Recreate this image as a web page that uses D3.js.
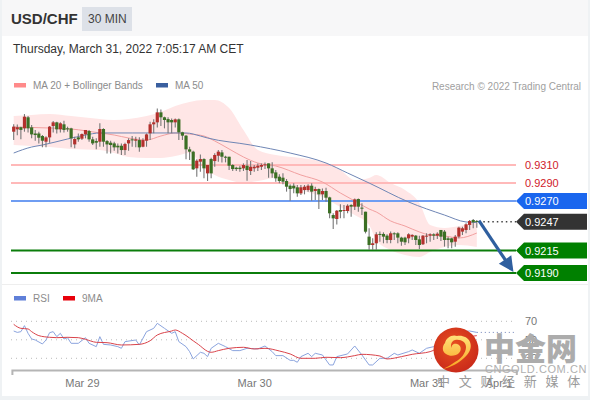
<!DOCTYPE html>
<html><head><meta charset="utf-8">
<script src="https://cdn.jsdelivr.net/npm/d3@7"></script>
<style>html,body{margin:0;padding:0;background:#fff;overflow:hidden}svg{display:block;font-family:"Liberation Sans",Arial,sans-serif}</style>
</head><body><svg id="c" width="590" height="400"></svg>
<script>
// candle values in pips of USD/CHF (x 1e-4), one per 30-minute bar
const highs=[9355.2,9355,9352.6,9366.6,9364.4,9354.4,9348.9,9347,9343.3,9342,9353.3,9358.9,9358.1,9357.4,9359.2,9352.6,9351.4,9341.4,9345,9345,9348.9,9348.9,9341.4,9339.6,9356.3,9350.7,9337.7,9337,9335.9,9334,9334,9334.8,9339.6,9342.2,9341.4,9340.7,9339.6,9345,9358.1,9360.7,9372.9,9371.8,9363.7,9363,9361.8,9361.8,9361.8,9347,9343.3,9330.3,9325.9,9316.3,9321.8,9317.4,9310,9318.1,9323,9326.6,9326.6,9320.3,9319.2,9310.7,9308.1,9309.2,9311.8,9315.5,9314.4,9310,9311.8,9311.8,9312.9,9311.8,9313,9304.4,9299.6,9300.7,9294.4,9288.5,9289.6,9287.8,9287.8,9287.8,9288.5,9289.6,9285.9,9284,9284,9284.8,9274.8,9256.3,9260,9266.3,9265.6,9266.3,9266.3,9272.9,9272.9,9267.4,9258.1,9239.7,9228.5,9235.2,9236,9235.2,9233,9236,9235.2,9235.2,9230.4,9230.4,9234.1,9233,9232.3,9231.5,9232.3,9234.1,9234.1,9234.1,9235.2,9237.8,9237.8,9230.4,9229.3,9232.3,9241.5,9241.5,9245.2,9248.9,9250,9248.9];
const lows=[9337.7,9343,9338.5,9347,9346,9339.6,9337,9334,9329.6,9329.6,9334.8,9346,9345,9346,9346,9347,9329.6,9328.5,9335.9,9337.7,9339.6,9335.9,9332.2,9327.4,9330.3,9330.3,9322.9,9322.9,9325.9,9322.9,9321,9321,9325.9,9330.3,9329.6,9324.8,9329.6,9330.3,9337.7,9345.2,9351.8,9353.3,9350.7,9345.2,9345.2,9351.8,9337.7,9337.7,9316.3,9315.5,9304.4,9297,9302.6,9295.2,9292.2,9295.2,9308.1,9313.7,9312.9,9312.9,9304.4,9303.3,9303.3,9302.6,9303.3,9292.6,9298.9,9302.6,9303.3,9304.4,9305.5,9295.9,9295.9,9291.5,9289.6,9288.5,9280.4,9270.4,9278.5,9274.8,9276.7,9277.4,9280.4,9270.4,9271.1,9261.1,9271.1,9269.2,9250.7,9238.9,9244,9250.7,9250.7,9256.3,9252.6,9260,9258.1,9254.4,9234,9215.6,9215.6,9215.6,9224.8,9223,9223,9223,9226.7,9223,9220.4,9221.1,9223,9226.7,9221.1,9216.7,9221.1,9223,9224.8,9226.7,9227.8,9225.6,9219.3,9217.4,9217.4,9219.3,9228.5,9232.3,9234.1,9237.8,9239.7,9240.4];
const opens=[9347,9349.6,9352,9350.7,9363,9351.8,9345,9345,9342.2,9335.9,9340.7,9353.3,9357.4,9349.6,9355.2,9350.7,9350.7,9332.9,9340.7,9339.2,9344,9347.7,9338.5,9336.6,9335.9,9350,9336.6,9334.8,9334,9331.4,9331.4,9326.6,9334,9338.5,9337,9337.7,9330.3,9337,9345.2,9355.2,9357.4,9368.5,9363,9361,9360,9357.4,9360.7,9346.3,9342.6,9327.4,9324.8,9306.3,9313.7,9316.6,9300.7,9316.6,9314.4,9320.3,9324,9319.2,9319.2,9310,9307,9307,9306.3,9309.2,9303.3,9306.3,9307,9308.1,9310,9311.8,9306.3,9301.8,9297,9295.9,9292.2,9287,9287,9285.2,9278.5,9282.2,9282.2,9287,9281.1,9283.3,9277.4,9281.1,9274,9254.4,9250,9260,9258.9,9258.9,9265.6,9263.7,9272.2,9262.6,9258.1,9230.4,9221.1,9223,9233.4,9233.4,9231.5,9226.7,9234.1,9234.1,9229.3,9229.3,9228.5,9230.4,9231.5,9227.4,9221.9,9230.4,9231.5,9233,9231.5,9237.8,9236,9228.5,9228.5,9224.8,9230.4,9236,9237.8,9243.4,9248.9,9247.8];
const closes=[9352.6,9352,9349,9363.7,9350.7,9344,9343.3,9340.3,9337,9340.7,9352.6,9357.4,9349.6,9356.3,9348.9,9349.6,9339.6,9338.9,9338.5,9344.4,9348.9,9338.5,9334,9334.8,9350,9335.9,9332.9,9332.2,9329.6,9329.6,9326.6,9333.3,9337.7,9337.7,9338.5,9329.6,9337.7,9344,9355.2,9357.4,9368.5,9363,9360,9357.4,9357.4,9360.7,9346.3,9342.6,9327.4,9324.8,9305.2,9314.8,9316.6,9306.3,9310,9300.7,9321.1,9324.8,9319.2,9318.1,9309.2,9305.5,9305.5,9305.5,9310,9304.4,9308.1,9308.1,9309.2,9310,9310.7,9306.3,9300.7,9295.2,9292.2,9291.5,9285.9,9283.3,9284,9278.5,9285.2,9285.9,9287,9280.4,9283.3,9277.4,9281.1,9273.7,9256.3,9250.7,9259.2,9258.1,9260,9264.8,9263.7,9271.8,9263.7,9261.9,9235.9,9221.1,9223,9233,9232.3,9230.4,9226.7,9234.1,9233,9229.3,9224.8,9224.1,9233,9232.3,9226.7,9221.1,9231.5,9231.5,9233,9231.5,9233.7,9230.4,9226.7,9226.7,9224.1,9230.4,9240.4,9239.7,9244.1,9247.8,9246.3,9247];
// Bollinger bands, MA 20 and MA 50, read at these bar positions
const bandBars=[0,5,10,16,24,28,32,37,41,45,49,53,56,60,64,68,73,80,86,91,95,99,101,105,109,113,116,120,124,129];
const bandUpper=[9364.4,9365.6,9366.7,9364.4,9361.1,9360,9361.1,9364.4,9368.9,9375.6,9380,9382.2,9382.2,9373.3,9348.9,9326.7,9321.1,9317.8,9313.3,9304.4,9293.3,9295.6,9298.9,9290,9282.2,9267.8,9243.3,9240,9242.2,9246.7];
const bandLower=[9332.2,9331.1,9330,9327.8,9326.7,9323.3,9318.9,9317.8,9317.8,9320,9323.3,9306.7,9298.9,9293.3,9290,9292.2,9295.6,9282.2,9274.4,9263.3,9254.4,9243.3,9226.7,9215.6,9210,9207.8,9213.3,9218.9,9221.1,9218.9];
const ma20=[9352.2,9351.7,9351.1,9350,9345.6,9343.3,9340,9337.8,9342.2,9345.6,9344.4,9342.2,9336.7,9327.8,9318.9,9312.2,9308.9,9298.9,9291.1,9278.9,9270,9261.1,9257.8,9247.8,9242.2,9235.6,9232.2,9231.1,9228.9,9234.4];
const ma50Bars=[0,5,8,15,20,24,33,43,48,52,54,66,77,87,93,99,110,120,126,129];
const ma50=[9323.3,9330,9332.2,9338.9,9343.3,9345.6,9345.6,9345.6,9345.6,9342.2,9340,9332.2,9323.3,9312.2,9301.1,9290,9268.9,9254.4,9246.7,9246.1];
// RSI panel
const rsiBars=[0,1,2,3,4,5,6,8,9,10,11,12,13,14,15,16,18,20,21,23,24,25,27,29,30,31,34,35,37,39,40,42,44,45,46,48,49,50,52,53,54,55,57,59,61,63,65,68,70,72,73,75,77,78,79,80,82,83,84,86,88,89,90,93,95,97,99,100,102,104,106,107,110,111,113,115,117,120,123,125,127,129];
const rsi=[59.5,58,58.8,65.3,57,50.9,49.8,45.5,49.8,57.7,58.8,53.4,57,50.9,52.3,46.2,46.2,52.3,46.2,42.6,53.4,45.1,44.4,42.6,40.8,48,49.8,44.4,58.8,62.4,67.8,62.4,57,58.8,48,42.6,37.2,29.3,36.5,35.4,31.8,40.8,46.2,42.6,38.3,38.3,40.8,40.1,43.3,37.2,32.9,32.9,27.8,27.8,25.7,31.8,35.4,31.8,35.4,33.6,22.8,22.8,31.8,34.7,43.3,33.6,22.8,22.8,30,30,35.4,33.6,37.2,39,35.4,40.8,42.6,49.8,55.2,58.8,59.5,58];
const rsiMaBars=[0,2,4,5,7,10,12,15,18,20,23,26,30,35,38,40,44,45,47,51,55,57,60,64,67,70,74,77,80,84,87,91,95,97,102,104,108,111,116,120,123,127,129];
const rsiMa=[66.7,62.4,61.7,58.8,54.5,52.7,52.3,52.7,52.3,50.5,47.3,46.9,44.4,45.1,49,55.2,59.5,60.6,57,46.2,36.5,38.3,40.8,41.9,40.1,40.8,37.9,34.7,30,30,31.1,30.7,32.9,34.3,32.5,29.3,31.8,34.3,37.2,44.4,49.8,53.4,54.5];
const rsiLevels=[70,50,30];
// price levels and axis
const levels=[0.9310,0.9290,0.9270,0.9215,0.9190];
const lastPrice=0.9247;
const targetPrice=0.9190;
const tickBars=[19,67,115,135];
const tickLabels=["Mar 29","Mar 30","Mar 31","Apr 1"];

const svg=d3.select("#c");
const x=d3.scaleLinear().domain([-0.5,140]).range([11.9,516.3]);
const y=d3.scaleLinear().domain([9190,9310]).range([273,165]);
const yR=d3.scaleLinear().domain([30,70]).range([358.3,321.3]);
const yPrice=v=>y(v*1e4);
const fmt=d3.format(".4f");

// page frame
svg.append("rect").attr("width",590).attr("height",400).attr("fill","#eff2f4");
svg.append("rect").attr("x",2).attr("width",586).attr("height",396).attr("fill","#fff");
svg.append("rect").attr("x",2).attr("width",586).attr("height",36).attr("fill","#f7f7f8");
svg.append("rect").attr("x",82).attr("y",7).attr("width",50).attr("height",24).attr("fill","#dde1e8");
svg.append("text").attr("x",11).attr("y",24).attr("font-size",15).attr("font-weight","bold").attr("fill","#333").text("USD/CHF");
svg.append("text").attr("x",88).attr("y",23).attr("font-size",12).attr("fill","#444").text("30 MIN");
svg.append("text").attr("x",13).attr("y",53).attr("font-size",12).attr("fill","#333").text("Thursday, March 31, 2022 7:05:17 AM CET");

// legends
function legend(px,py,color,label,fs){
  svg.append("rect").attr("x",px).attr("y",py-3).attr("width",12).attr("height",4.5).attr("fill",color);
  svg.append("text").attr("x",px+19).attr("y",py+3).attr("font-size",fs).attr("fill","#8c8c8c").text(label);
}
legend(14,86,"#ff8a8a","MA 20 + Bollinger Bands",10);
legend(156,86,"#3a5f9f","MA 50",10);
legend(14,299,"#5f7fd8","RSI",10);
legend(63,299,"#e8000b","9MA",10);
svg.append("text").attr("x",581).attr("y",90).attr("text-anchor","end").attr("font-size",10).attr("fill","#a0a0a0").text("Research © 2022 Trading Central");

// bands
svg.append("path").attr("fill","#ffe6e6")
 .attr("d",d3.area().x((d,i)=>x(bandBars[i])).y0((d,i)=>y(bandLower[i])).y1(d=>y(d)).curve(d3.curveMonotoneX)(bandUpper));

// level lines
const levelColors=["#ffb9b9","#ffb9b9","#6f9df2","#0b7d0b","#0b7d0b"];
levels.forEach((v,i)=>svg.append("line").attr("x1",11).attr("x2",516).attr("y1",yPrice(v)).attr("y2",yPrice(v)).attr("stroke",levelColors[i]).attr("stroke-width",2));
svg.append("line").attr("x1",x(129)+2).attr("x2",516).attr("y1",yPrice(lastPrice)).attr("y2",yPrice(lastPrice)).attr("stroke","#444").attr("stroke-width",1.5).attr("stroke-dasharray","1.5 3");

// moving averages
const lineOf=(bars,sc)=>d3.line().x((d,i)=>x(bars[i])).y(d=>sc(d)).curve(d3.curveMonotoneX);
svg.append("path").attr("fill","none").attr("stroke","#f2a0a0").attr("stroke-width",1).attr("d",lineOf(bandBars,y)(ma20));
svg.append("path").attr("fill","none").attr("stroke","#6f86b5").attr("stroke-width",1).attr("d",lineOf(ma50Bars,y)(ma50));

// candles
const bars=d3.range(closes.length);
svg.append("g").selectAll("line").data(bars).join("line")
 .attr("x1",i=>x(i)).attr("x2",i=>x(i)).attr("y1",i=>y(highs[i])).attr("y2",i=>y(lows[i]))
 .attr("stroke","#777").attr("stroke-width",1.1);
svg.append("g").selectAll("rect").data(bars).join("rect")
 .attr("x",i=>x(i)-1.6).attr("width",3.2)
 .attr("y",i=>y(Math.max(opens[i],closes[i])))
 .attr("height",i=>Math.max(1,Math.abs(y(opens[i])-y(closes[i]))))
 .attr("fill",i=>closes[i]>=opens[i]?"#b3302c":"#3b6f24");

// right tags
function tag(v,color){
  const py=yPrice(v);
  svg.append("path").attr("fill",color).attr("d",`M516 ${py}L524 ${py-8}H587V${py+8}H524Z`);
  svg.append("text").attr("x",525).attr("y",py+4).attr("font-size",11).attr("fill","#fff").text(fmt(v));
}
tag(levels[2],"#1a66ee");tag(lastPrice,"#333333");tag(levels[3],"#008000");tag(levels[4],"#008000");
[levels[0],levels[1]].forEach(v=>svg.append("text").attr("x",525).attr("y",yPrice(v)+4).attr("font-size",11).attr("fill","#d0202a").text(fmt(v)));

// forecast arrow
const ax0=x(129.6),ay0=yPrice(lastPrice)-1,ax1=x(139.2),ay1=yPrice(targetPrice)-1;
const ang=Math.atan2(ay1-ay0,ax1-ax0);
svg.append("line").attr("x1",ax0).attr("y1",ay0).attr("x2",ax1-10*Math.cos(ang)).attr("y2",ay1-10*Math.sin(ang)).attr("stroke","#2f5f9f").attr("stroke-width",3.2);
const hw=7.5,hl=15;
const bx=ax1-hl*Math.cos(ang),by=ay1-hl*Math.sin(ang);
svg.append("path").attr("fill","#2f5f9f").attr("d",`M${ax1} ${ay1}L${bx-hw*Math.sin(ang)} ${by+hw*Math.cos(ang)}L${bx+hw*Math.sin(ang)} ${by-hw*Math.cos(ang)}Z`);

// separator
svg.append("line").attr("x1",2).attr("x2",588).attr("y1",284.5).attr("y2",284.5).attr("stroke","#eeeeee");

// RSI panel
rsiLevels.forEach(v=>{
  svg.append("line").attr("x1",11).attr("x2",516).attr("y1",yR(v)).attr("y2",yR(v)).attr("stroke","#bbb").attr("stroke-dasharray","1 4");
  svg.append("text").attr("x",525).attr("y",yR(v)+4).attr("font-size",11).attr("fill","#777").text(v);
});
svg.append("line").attr("x1",x(129)).attr("x2",516).attr("y1",yR(rsi[rsi.length-1])).attr("y2",yR(rsi[rsi.length-1])).attr("stroke","#6d80b8").attr("stroke-dasharray","1 3");
svg.append("path").attr("fill","none").attr("stroke","#8ba4de").attr("stroke-width",1).attr("d",d3.line().x((d,i)=>x(rsiBars[i])).y(d=>yR(d))(rsi));
svg.append("path").attr("fill","none").attr("stroke","#d9434a").attr("stroke-width",1).attr("d",lineOf(rsiMaBars,yR)(rsiMa));

// time axis
const ax=svg.append("g").attr("transform","translate(0,370)")
 .call(d3.axisBottom(x).tickValues(tickBars).tickSize(0).tickSizeOuter(5).tickPadding(9).tickFormat((d,i)=>tickLabels[i]));
ax.select(".domain").attr("stroke","#b5b5b5").attr("stroke-width",2);
ax.selectAll("text").attr("font-size",11).attr("fill","#777").attr("font-family","'Liberation Sans',Arial,sans-serif");

// watermark
const defs=svg.append("defs");
const g1=defs.append("radialGradient").attr("id","lg").attr("cx","45%").attr("cy","40%").attr("r","65%");
g1.append("stop").attr("offset","0%").attr("stop-color","#e8501f");
g1.append("stop").attr("offset","100%").attr("stop-color","#c8281a");
const g2=defs.append("linearGradient").attr("id","sw").attr("x1",0).attr("y1",0).attr("x2",0).attr("y2",1);
g2.append("stop").attr("offset","0%").attr("stop-color","#ffe27a");
g2.append("stop").attr("offset","100%").attr("stop-color","#f9a21e");
const wm=svg.append("g");
wm.append("circle").attr("cx",456).attr("cy",350).attr("r",22.5).attr("fill","url(#lg)");
wm.append("path").attr("transform","translate(456,350)").attr("fill","url(#sw)")
 .attr("d","M-13 19C-5 17 3 13 8 8C14 3 16 -3 14 -8C12 -13 6 -15 1 -14C-4 -16 -10 -12 -11 -7C-14 -4 -14 2 -10 4C-6 7 0 6 3 3C6 0 5 -5 1 -6C-2 -7 -5 -5 -4 -2C-6 -4 -5 -9 -1 -10C5 -11 10 -8 10 -3C10 3 5 9 -1 12C-5 15 -9 17 -13 19Z");
wm.append("text").attr("x",484).attr("y",360).attr("font-size",31).attr("font-weight",900).attr("fill","#acacac").attr("font-family","'Noto Sans CJK SC'").text("中金网");
wm.append("text").attr("x",485).attr("y",373).attr("font-size",11).attr("letter-spacing",0.55).attr("fill","#b0b0b0").text("CNGOLD.COM.CN");
wm.append("text").attr("x",437).attr("y",386).attr("font-size",13).attr("letter-spacing",8.7).attr("fill","#9a9a9a").attr("font-family","'Noto Sans CJK SC'").text("中文财经新媒体");
</script></body></html>
